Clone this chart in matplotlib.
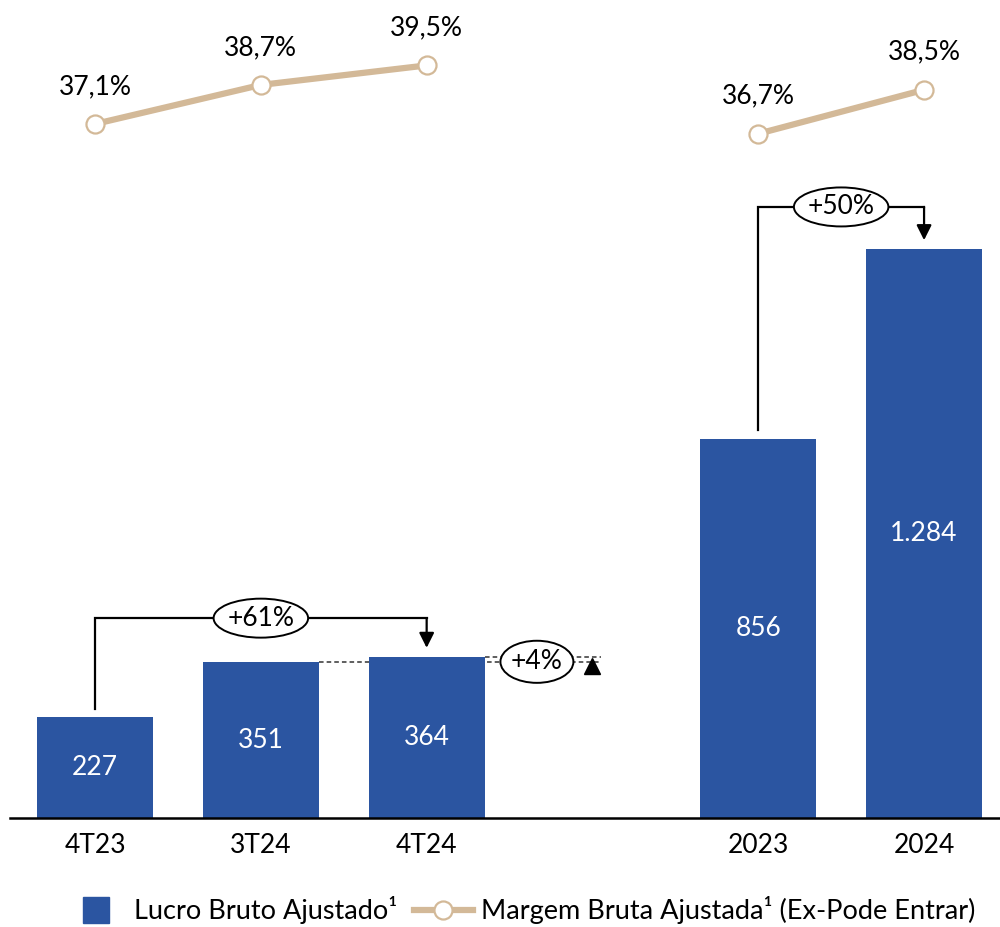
"""Lucro bruto ajustado (bars) with margem bruta ajustada (line) chart."""

import matplotlib

matplotlib.use("Agg")

import matplotlib.pyplot as plt
from matplotlib.lines import Line2D
from matplotlib.patches import Ellipse

plt.rcParams["font.family"] = ["Lato", "DejaVu Sans"]

categories = ["4T23", "3T24", "4T24", "2023", "2024"]
positions = [0, 1, 2, 4, 5]
lucro_bruto = [227, 351, 364, 856, 1284]
lucro_labels = ["227", "351", "364", "856", "1.284"]

quarter_pos = [0, 1, 2]
margem_quarters = [37.1, 38.7, 39.5]
margem_quarters_labels = ["37,1%", "38,7%", "39,5%"]
year_pos = [4, 5]
margem_years = [36.7, 38.5]
margem_years_labels = ["36,7%", "38,5%"]

growth_labels = ["+61%", "+4%", "+50%"]

BAR_COLOR = "#2B55A1"
LINE_COLOR = "#D3B998"
FONT_SIZE = 19
BAR_WIDTH = 0.7


def draw_bracket(ax, x0, x1, y_start, y_top, y_tip, label):
    """Elbow connector from one bar to another with an oval growth label."""
    ax.plot([x0, x0, x1], [y_start, y_top, y_top], color="black", lw=1.6,
            solid_joinstyle="miter", zorder=3)
    ax.annotate(
        "",
        xy=(x1, y_tip),
        xytext=(x1, y_top),
        arrowprops=dict(arrowstyle="-|>,head_length=0.9,head_width=0.45",
                        color="black", lw=1.6, shrinkA=0, shrinkB=0),
        zorder=3,
    )
    xc = (x0 + x1) / 2
    ax.add_patch(Ellipse((xc, y_top), 0.57, 88, facecolor="white",
                         edgecolor="black", lw=1.4, zorder=4))
    ax.text(xc, y_top, label, ha="center", va="center", fontsize=FONT_SIZE,
            zorder=5)


fig = plt.figure(figsize=(10, 9.27), dpi=100)
ax = fig.add_axes([0.01, 1 - 818 / 927, 0.99, 818 / 927])
ax.set_xlim(-0.513, 5.458)
ax.set_ylim(0, 1846)

ax.bar(positions, lucro_bruto, width=BAR_WIDTH, color=BAR_COLOR, zorder=2)
for x, v, lab in zip(positions, lucro_bruto, lucro_labels):
    ax.text(x, v / 2, lab, ha="center", va="center", color="white",
            fontsize=FONT_SIZE, zorder=3)

ax.set_xticks(positions)
ax.set_xticklabels(categories, fontsize=FONT_SIZE)
ax.tick_params(axis="x", length=0, pad=11)
ax.set_yticks([])
for side in ["top", "left", "right"]:
    ax.spines[side].set_visible(False)
ax.spines["bottom"].set_linewidth(1.8)
ax.patch.set_alpha(0)

# growth brackets
draw_bracket(ax, 0, 2, lucro_bruto[0] + 18, lucro_bruto[2] + 87,
             lucro_bruto[2] + 20, growth_labels[0])
draw_bracket(ax, 4, 5, lucro_bruto[3] + 20, lucro_bruto[4] + 95,
             lucro_bruto[4] + 20, growth_labels[2])

# +4% quarter-over-quarter marker
dash_end = 3.05
ax.plot([1 + BAR_WIDTH / 2, dash_end], [lucro_bruto[1]] * 2, ls=(0, (3, 2)),
        color="#333333", lw=1.1, zorder=1)
ax.plot([2 + BAR_WIDTH / 2, dash_end], [lucro_bruto[2]] * 2, ls=(0, (3, 2)),
        color="#333333", lw=1.1, zorder=1)
qoq_y = (lucro_bruto[1] + lucro_bruto[2]) / 2 - 5
ax.add_patch(Ellipse((2.665, qoq_y), 0.44, 95, facecolor="white",
                     edgecolor="black", lw=1.4, zorder=4))
ax.text(2.665, qoq_y, growth_labels[1], ha="center", va="center",
        fontsize=FONT_SIZE, zorder=5)
ax.plot(3.0, lucro_bruto[1] - 8, marker="^", ms=12, color="black",
        ls="none", zorder=5)

# margin line on secondary axis
ax2 = ax.twinx()
ax2.set_ylim(8.66, 42.18)
ax2.set_yticks([])
for side in ["top", "left", "right", "bottom"]:
    ax2.spines[side].set_visible(False)

for xs, ys, labels in [(quarter_pos, margem_quarters, margem_quarters_labels),
                       (year_pos, margem_years, margem_years_labels)]:
    ax2.plot(xs, ys, color=LINE_COLOR, lw=4.5, marker="o", ms=13,
             mfc="white", mec=LINE_COLOR, mew=1.6, zorder=3)
    for x, y, lab in zip(xs, ys, labels):
        ax2.annotate(lab, (x, y), xytext=(0, 27), textcoords="offset points",
                     ha="center", va="center", fontsize=FONT_SIZE)

handles = [
    Line2D([], [], color=BAR_COLOR, marker="s", ms=19, ls="none"),
    Line2D([], [], color=LINE_COLOR, lw=4.5, marker="o", ms=13,
           mfc="white", mec=LINE_COLOR, mew=1.6),
]
fig.legend(
    handles,
    ["Lucro Bruto Ajustado¹", "Margem Bruta Ajustada¹ (Ex-Pode Entrar)"],
    loc="center",
    bbox_to_anchor=(0.521, 1 - 910 / 927),
    ncol=2,
    frameon=False,
    fontsize=FONT_SIZE + 0.5,
    handlelength=2.2,
    handletextpad=0.3,
    columnspacing=0.6,
)

fig.savefig("out.png", dpi=100)
